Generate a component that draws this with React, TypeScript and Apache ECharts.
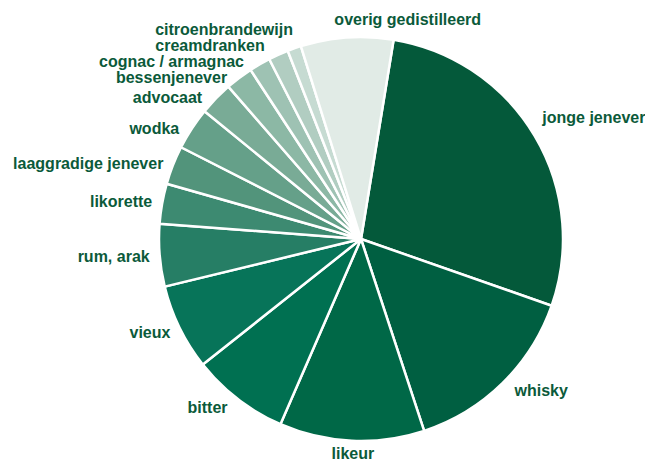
import React, { useEffect, useRef } from "react";
import * as echarts from "echarts";

const categories = [
  "jonge jenever",
  "whisky",
  "likeur",
  "bitter",
  "vieux",
  "rum, arak",
  "likorette",
  "laaggradige jenever",
  "wodka",
  "advocaat",
  "bessenjenever",
  "cognac / armagnac",
  "creamdranken",
  "citroenbrandewijn",
  "overig gedistilleerd",
];

const values = [27.8, 14.6, 11.6, 7.8, 6.9, 5.0, 3.2, 3.1, 3.4, 2.7, 2.2, 1.7, 1.6, 1.1, 7.4];

const colors = [
  "#04593a",
  "#005f41",
  "#006847",
  "#007051",
  "#077459",
  "#267e65",
  "#3d8a71",
  "#52947b",
  "#65a089",
  "#79ab96",
  "#8cb8a5",
  "#9ec2b3",
  "#b1cdc1",
  "#c6dbd2",
  "#e1ebe6",
];

// small label nudges (style only)
const labelNudge: Record<number, { dx: number; dy: number }> = {
  0: { dx: -6, dy: -13 },
  2: { dx: 28, dy: 3 },
  3: { dx: -4, dy: 0 },
  7: { dx: 0, dy: 2 },
  9: { dx: 11, dy: -13 },
  10: { dx: 21, dy: -15 },
  11: { dx: 19, dy: -13 },
  12: { dx: 15, dy: -11 },
  13: { dx: 7, dy: -9 },
  14: { dx: 54, dy: -116 },
};

export default function App() {
  const ref = useRef<HTMLDivElement>(null);
  useEffect(() => {
    document.body.style.margin = "0";
    const chart = echarts.init(ref.current!, null, { renderer: "svg" });
    const labelStyle = {
      color: "#0b5a3a",
      fontFamily: "Liberation Sans, Arial, sans-serif",
      fontWeight: "bold",
      fontSize: 16,
    };
    chart.setOption({
      animation: false,
      backgroundColor: "#ffffff",
      series: [
        {
          type: "pie",
          center: [361, 239],
          radius: 202,
          startAngle: 80.7,
          clockwise: true,
          avoidLabelOverlap: true,
          itemStyle: { borderColor: "#ffffff", borderWidth: 2.5 },
          label: {
            show: true,
            position: "outside",
            overflow: "none",
            distance: 4,
            ...labelStyle,
          },
          labelLine: { show: false, length: 10, length2: 0 },
          labelLayout: (p: any) => labelNudge[p.dataIndex] || {},
          emphasis: { disabled: true },
          data: categories.map((name, i) => ({
            name,
            value: values[i],
            itemStyle: { color: colors[i] },
            ...(i === categories.length - 1
              ? { label: { position: "inside", ...labelStyle } }
              : {}),
          })),
        },
      ],
    });
    return () => chart.dispose();
  }, []);
  return <div ref={ref} style={{ width: 645, height: 461 }} />;
}
